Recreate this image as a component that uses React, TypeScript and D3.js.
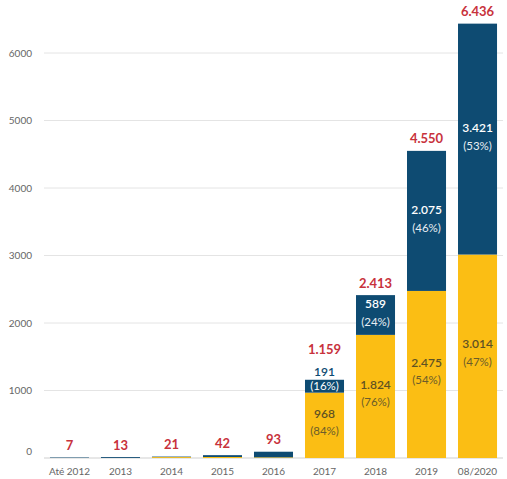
import React, { useEffect, useRef } from "react";
import * as d3 from "d3";

const categories = ["Até 2012", "2013", "2014", "2015", "2016", "2017", "2018", "2019", "08/2020"];
const yellowValues = [0, 0, 14, 15, 10, 968, 1824, 2475, 3014];
const navyValues = [7, 13, 7, 27, 83, 191, 589, 2075, 3421];
const totals = [7, 13, 21, 42, 93, 1159, 2413, 4550, 6436];
const yellowPct = ["", "", "", "", "", "(84%)", "(76%)", "(54%)", "(47%)"];
const navyPct = ["", "", "", "", "", "(16%)", "(24%)", "(46%)", "(53%)"];
const yTicks = [0, 1000, 2000, 3000, 4000, 5000, 6000];

const W = 507;
const H = 479;
const YELLOW = "#FBBE14";
const NAVY = "#0E4B72";
const RED = "#C8323C";
const FONT = "Lato, 'Open Sans', sans-serif";

const ptBR = d3.formatLocale({ decimal: ",", thousands: ".", grouping: [3], currency: ["R$", ""] });
const fmt = ptBR.format(",d");

export default function App() {
  const svgRef = useRef<SVGSVGElement | null>(null);

  useEffect(() => {
    const svg = d3.select(svgRef.current);
    svg.selectAll("*").remove();

    const x = d3.scaleBand<string>()
      .domain(categories)
      .range([44, 503])
      .paddingInner(0.235)
      .paddingOuter(0.117);

    const y = d3.scaleLinear().domain([0, 6000]).range([458, 53]);

    // grid
    svg.append("g")
      .selectAll("line")
      .data(yTicks)
      .enter()
      .append("line")
      .attr("x1", 44)
      .attr("x2", 503)
      .attr("y1", d => y(d))
      .attr("y2", d => y(d))
      .attr("stroke", d => (d === 0 ? "#cfcfcf" : "#e4e4e4"))
      .attr("stroke-width", 1);

    // y labels
    svg.append("g")
      .selectAll("text")
      .data(yTicks)
      .enter()
      .append("text")
      .attr("x", 32)
      .attr("y", d => (d === 0 ? y(d) - 7 : y(d)))
      .attr("dy", "0.35em")
      .attr("text-anchor", "end")
      .style("font-family", FONT)
      .style("font-size", "10px")
      .style("fill", "#666")
      .text(d => String(d));

    // x labels
    svg.append("g")
      .selectAll("text")
      .data(categories)
      .enter()
      .append("text")
      .attr("x", d => x(d)! + x.bandwidth() / 2)
      .attr("y", 471)
      .attr("dy", "0.35em")
      .attr("text-anchor", "middle")
      .style("font-family", FONT)
      .style("font-size", "10px")
      .style("fill", "#666")
      .text(d => d);

    const bw = x.bandwidth();

    categories.forEach((c, i) => {
      const x0 = x(c)!;
      const cx = x0 + bw / 2;
      const yv = yellowValues[i];
      const nv = navyValues[i];
      const yTop = y(yv);
      const nTop = y(yv + nv);

      svg.append("rect")
        .attr("x", x0)
        .attr("y", yTop)
        .attr("width", bw)
        .attr("height", y(0) - yTop)
        .attr("fill", YELLOW);

      svg.append("rect")
        .attr("x", x0)
        .attr("y", nTop)
        .attr("width", bw)
        .attr("height", yTop - nTop)
        .attr("fill", NAVY);

      let totalY = nTop - 12;

      if (navyPct[i]) {
        const segH = yTop - nTop;
        if (segH < 30) {
          // too small: number above, pct inside
          svg.append("text")
            .attr("x", cx).attr("y", nTop - 8).attr("dy", "0.35em")
            .attr("text-anchor", "middle")
            .style("font-family", FONT).style("font-size", "12px").style("font-weight", 600)
            .style("fill", NAVY)
            .text(fmt(nv));
          svg.append("text")
            .attr("x", cx).attr("y", (nTop + yTop) / 2).attr("dy", "0.35em")
            .attr("text-anchor", "middle")
            .style("font-family", FONT).style("font-size", "11.5px")
            .style("fill", "#fff")
            .text(navyPct[i]);
          totalY = nTop - 30;
        } else {
          const mid = (nTop + yTop) / 2 - 2;
          svg.append("text")
            .attr("x", cx).attr("y", mid - 9).attr("dy", "0.35em")
            .attr("text-anchor", "middle")
            .style("font-family", FONT).style("font-size", "12px").style("font-weight", 600)
            .style("fill", "#fff")
            .text(fmt(nv));
          svg.append("text")
            .attr("x", cx).attr("y", mid + 9).attr("dy", "0.35em")
            .attr("text-anchor", "middle")
            .style("font-family", FONT).style("font-size", "11.5px")
            .style("fill", "#e8eef3")
            .text(navyPct[i]);
        }
      }

      if (yellowPct[i]) {
        const mid = (yTop + y(0)) / 2 - 3;
        svg.append("text")
          .attr("x", cx).attr("y", mid - 9).attr("dy", "0.35em")
          .attr("text-anchor", "middle")
          .style("font-family", FONT).style("font-size", "12px").style("font-weight", 600)
          .style("fill", "#5f5223")
          .text(fmt(yv));
        svg.append("text")
          .attr("x", cx).attr("y", mid + 9).attr("dy", "0.35em")
          .attr("text-anchor", "middle")
          .style("font-family", FONT).style("font-size", "11.5px")
          .style("fill", "#6b5d2a")
          .text(yellowPct[i]);
      }

      svg.append("text")
        .attr("x", cx).attr("y", totalY).attr("dy", "0.35em")
        .attr("text-anchor", "middle")
        .style("font-family", FONT).style("font-size", "13px").style("font-weight", 700)
        .style("fill", RED)
        .text(fmt(totals[i]));
    });
  }, []);

  return (
    <div style={{ position: "absolute", left: 0, top: 0, width: W, height: H, background: "#fff" }}>
      <svg ref={svgRef} width={W} height={H}></svg>
    </div>
  );
}
